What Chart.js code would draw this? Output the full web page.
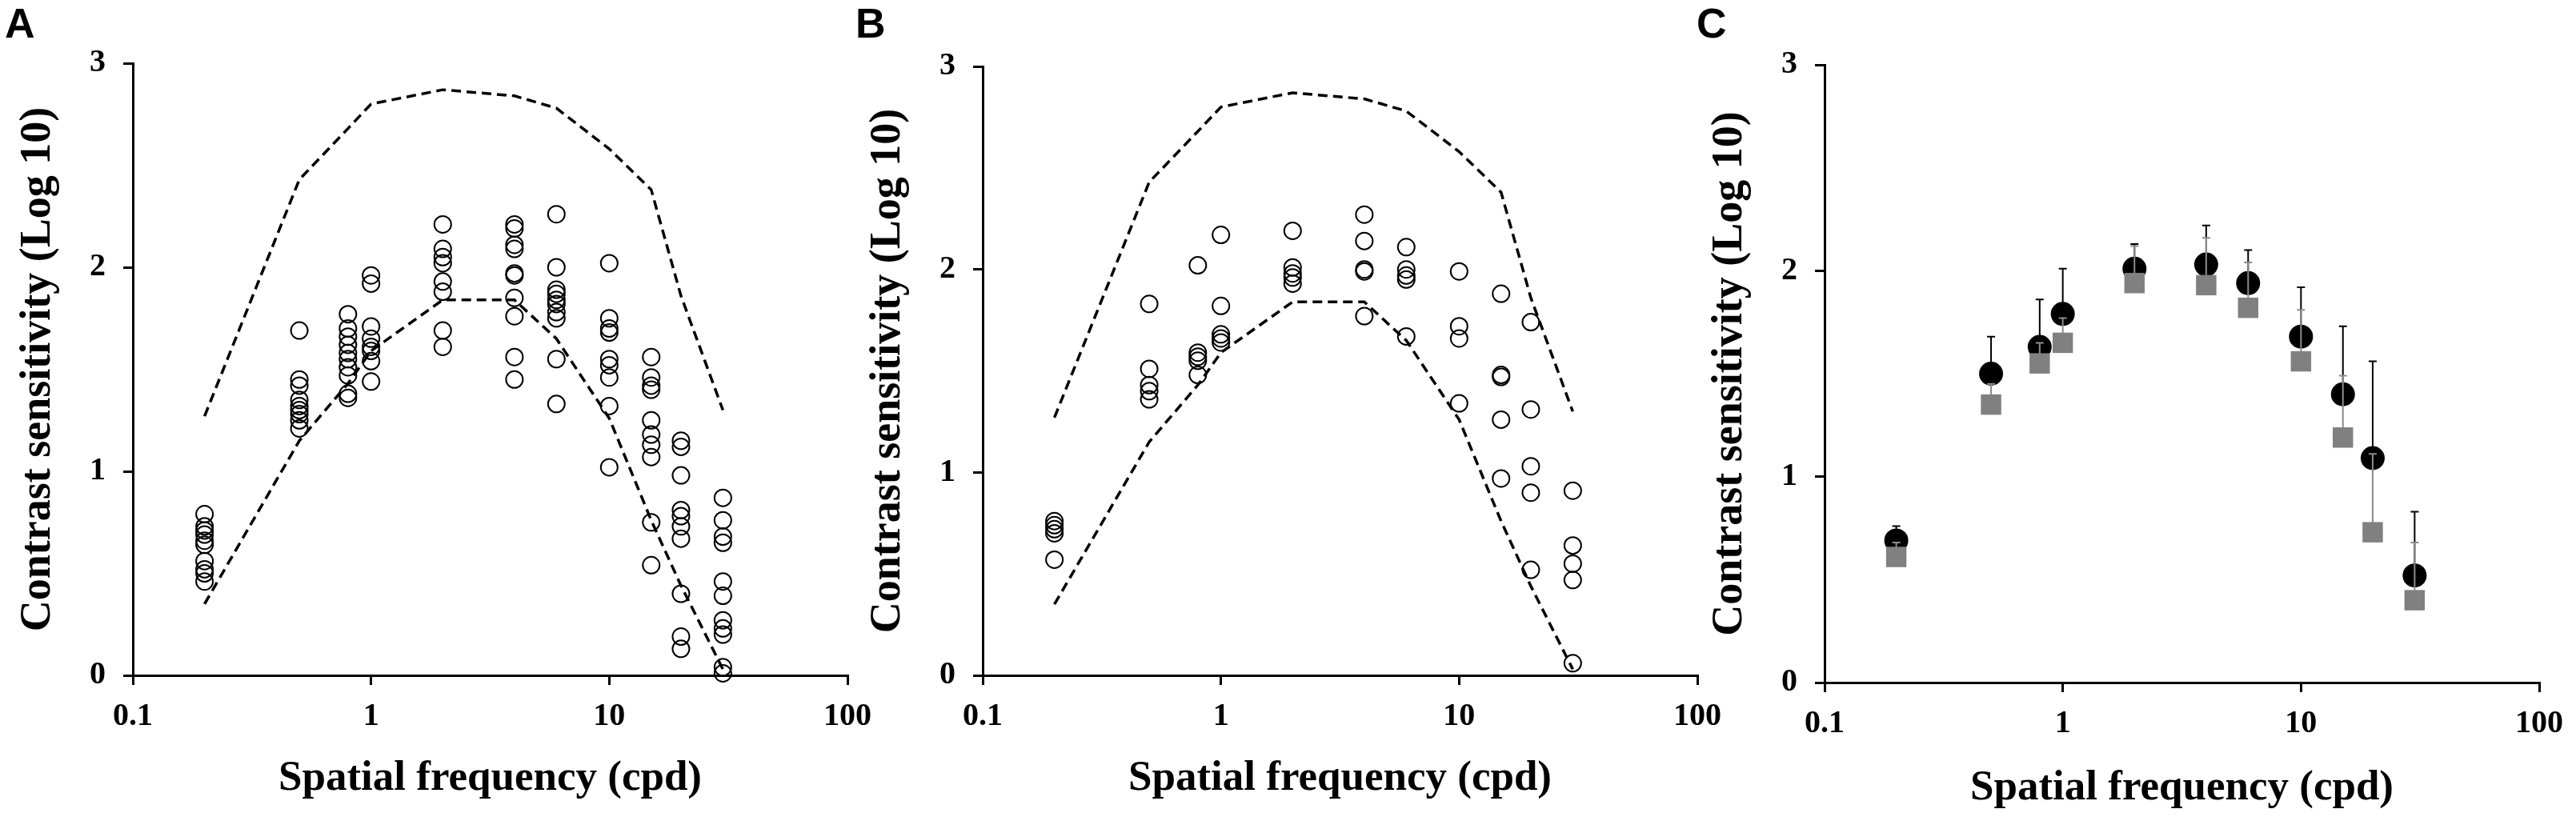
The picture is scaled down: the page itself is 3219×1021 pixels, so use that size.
<!DOCTYPE html>
<html>
<head>
<meta charset="utf-8">
<title>Contrast sensitivity</title>
<script src="https://cdn.jsdelivr.net/npm/chart.js@4.4.1/dist/chart.umd.min.js"></script>
<style>
  html, body { margin: 0; padding: 0; background: #fff; }
  body { width: 3219px; height: 1021px; position: relative; overflow: hidden; }
  .panel { position: absolute; top: 0; width: 1105px; height: 1021px; }
  .letter { position: absolute; top: 3px; font: bold 52px "Liberation Sans", Arial, sans-serif; line-height: 1; color: #000; }
</style>
</head>
<body>
<div class="panel" style="left:0px"><canvas id="chartA" width="1105" height="1021"></canvas></div>
<div class="panel" style="left:1062px"><canvas id="chartB" width="1105" height="1021"></canvas></div>
<div class="panel" style="left:2114px"><canvas id="chartC" width="1105" height="1021"></canvas></div>
<div class="letter" style="left:6px">A</div>
<div class="letter" style="left:1069px">B</div>
<div class="letter" style="left:2120px">C</div>
<script>
// spatial frequencies tested (cpd)
const freqs = [0.2, 0.5, 0.8, 1, 2, 4, 6, 10, 15, 20, 30];
const xTicks = [0.1, 1, 10, 100];
const yTicks = [0, 1, 2, 3];

// normal range (dashed lines), same in A and B
const normUpper = [1.27, 2.43, 2.68, 2.80, 2.87, 2.84, 2.78, 2.58, 2.38, 1.86, 1.30];
const normLower = [0.35, 1.15, 1.43, 1.59, 1.84, 1.84, 1.65, 1.26, 0.76, 0.44, 0.03];

// panel A: individual eyes, one list per frequency
const groupA = [
  [0.79, 0.73, 0.71, 0.69, 0.66, 0.64, 0.56, 0.52, 0.50, 0.46],
  [1.69, 1.45, 1.42, 1.35, 1.32, 1.30, 1.28, 1.25, 1.21],
  [1.77, 1.70, 1.66, 1.62, 1.58, 1.55, 1.51, 1.47, 1.38, 1.36],
  [1.96, 1.92, 1.71, 1.65, 1.61, 1.59, 1.54, 1.44],
  [2.21, 2.09, 2.05, 2.02, 1.93, 1.88, 1.69, 1.61],
  [2.21, 2.19, 2.11, 2.09, 1.97, 1.96, 1.85, 1.76, 1.56, 1.45],
  [2.26, 2.00, 1.89, 1.87, 1.84, 1.82, 1.78, 1.75, 1.55, 1.33],
  [2.02, 1.75, 1.70, 1.68, 1.55, 1.52, 1.46, 1.32, 1.02],
  [1.56, 1.46, 1.42, 1.40, 1.25, 1.18, 1.13, 1.07, 0.75, 0.54],
  [1.15, 1.12, 0.98, 0.81, 0.78, 0.73, 0.67, 0.40, 0.19, 0.13],
  [0.87, 0.76, 0.68, 0.65, 0.46, 0.39, 0.27, 0.23, 0.20, 0.04, 0.01]
];

// panel B
const groupB = [
  [0.76, 0.74, 0.72, 0.70, 0.57],
  [1.83, 1.51, 1.43, 1.40, 1.36],
  [2.02, 1.59, 1.57, 1.55, 1.48],
  [2.17, 1.82, 1.68, 1.66, 1.64],
  [2.19, 2.01, 1.98, 1.96, 1.93],
  [2.27, 2.14, 2.00, 1.99, 1.77],
  [2.11, 2.00, 1.97, 1.95, 1.67],
  [1.99, 1.72, 1.66, 1.34],
  [1.88, 1.48, 1.47, 1.26, 0.97],
  [1.74, 1.31, 1.03, 0.90, 0.52],
  [0.91, 0.64, 0.55, 0.47, 0.06]
];

// panel C: group means with upper error
const meanBlack = [0.69, 1.50, 1.63, 1.79, 2.01, 2.03, 1.94, 1.68, 1.40, 1.09, 0.52];
const errBlack  = [0.07, 0.18, 0.23, 0.22, 0.12, 0.19, 0.16, 0.24, 0.33, 0.47, 0.31];
const meanGray  = [0.61, 1.35, 1.55, 1.65, 1.94, 1.93, 1.82, 1.56, 1.19, 0.73, 0.40];
const errGray   = [0.07, 0.10, 0.10, 0.12, 0.18, 0.23, 0.22, 0.25, 0.30, 0.38, 0.28];

const serif = "'Liberation Serif', 'Times New Roman', serif";

// draws the upward error bars of a dataset just before its points
const errorBars = {
  id: "errorBars",
  beforeDatasetDraw(chart, args) {
    const ds = chart.data.datasets[args.index];
    if (!ds.errUp) return;
    const y = chart.scales.y;
    const ctx = chart.ctx;
    ctx.save();
    ctx.strokeStyle = ds.errColor;
    ctx.lineWidth = 2;
    args.meta.data.forEach((pt, i) => {
      const top = y.getPixelForValue(ds.data[i].y + ds.errUp[i]);
      ctx.beginPath();
      ctx.moveTo(pt.x, pt.y);
      ctx.lineTo(pt.x, top);
      ctx.moveTo(pt.x - 5, top);
      ctx.lineTo(pt.x + 5, top);
      ctx.stroke();
    });
    ctx.restore();
  }
};

const toPoints = (vals) => freqs.map((f, i) => ({ x: f, y: vals[i] }));
const groupPoints = (groups) => {
  const pts = [];
  groups.forEach((g, i) => g.forEach(v => pts.push({ x: freqs[i], y: v })));
  return pts;
};

const normLines = () => [
  { type: "line", data: toPoints(normUpper), borderColor: "#000", borderWidth: 3.5,
    borderDash: [12, 7], pointRadius: 0, fill: false, tension: 0 },
  { type: "line", data: toPoints(normLower), borderColor: "#000", borderWidth: 3.5,
    borderDash: [12, 7], pointRadius: 0, fill: false, tension: 0 }
];

const makePanel = (id, datasets, top, bottomSpace, titlePad) => {
  new Chart(document.getElementById(id), {
    type: "scatter",
    data: { datasets: datasets },
    plugins: [errorBars],
    options: {
      responsive: false,
      animation: false,
      devicePixelRatio: 1,
      layout: { padding: { top: top, left: 0, right: 40, bottom: 0 } },
      plugins: { legend: { display: false }, tooltip: { enabled: false } },
      scales: {
        x: {
          type: "logarithmic",
          min: 0.1,
          max: 100,
          afterBuildTicks: (s) => { s.ticks = xTicks.map(v => ({ value: v, major: true })); },
          afterFit: (s) => { s.height = bottomSpace; },
          ticks: {
            color: "#000",
            padding: 16,
            maxRotation: 0,
            autoSkip: false,
            font: { family: serif, size: 40, weight: "bold" },
            callback: (v) => String(v)
          },
          grid: { drawOnChartArea: false, tickLength: 12, lineWidth: 3, color: "#000" },
          border: { display: true, width: 3, color: "#000" },
          title: {
            display: true,
            text: "Spatial frequency (cpd)",
            color: "#000",
            padding: { top: 0, bottom: titlePad },
            font: { family: serif, size: 53, weight: "bold" }
          }
        },
        y: {
          min: 0,
          max: 3,
          afterBuildTicks: (s) => { s.ticks = yTicks.map(v => ({ value: v })); },
          afterFit: (s) => { s.width = 166; },
          ticks: {
            color: "#000",
            padding: 22,
            font: { family: serif, size: 40, weight: "bold" }
          },
          grid: { drawOnChartArea: false, tickLength: 12, lineWidth: 3, color: "#000" },
          border: { display: true, width: 3, color: "#000" },
          title: {
            display: true,
            text: "Contrast sensitivity (Log 10)",
            color: "#000",
            padding: { top: 16, bottom: 0 },
            font: { family: serif, size: 54, weight: "bold" }
          }
        }
      }
    }
  });
};

const circles = (groups) => ({
  data: groupPoints(groups),
  pointStyle: "circle",
  pointRadius: 10.5,
  borderColor: "#000",
  borderWidth: 2,
  backgroundColor: "rgba(0,0,0,0)",
  clip: false
});

makePanel("chartA", [circles(groupA), ...normLines()], 79, 177, 16);
makePanel("chartB", [circles(groupB), ...normLines()], 83, 177, 16);
makePanel("chartC", [
  { data: toPoints(meanGray), errUp: errGray, errColor: "#8c8c8c", order: 0,
    pointStyle: "rect", pointRadius: 18, backgroundColor: "#808080", borderWidth: 0, clip: false },
  { data: toPoints(meanBlack), errUp: errBlack, errColor: "#000", order: 1,
    pointStyle: "circle", pointRadius: 15, backgroundColor: "#000", borderWidth: 0, clip: false }
], 81, 168, 4);
</script>
</body>
</html>
